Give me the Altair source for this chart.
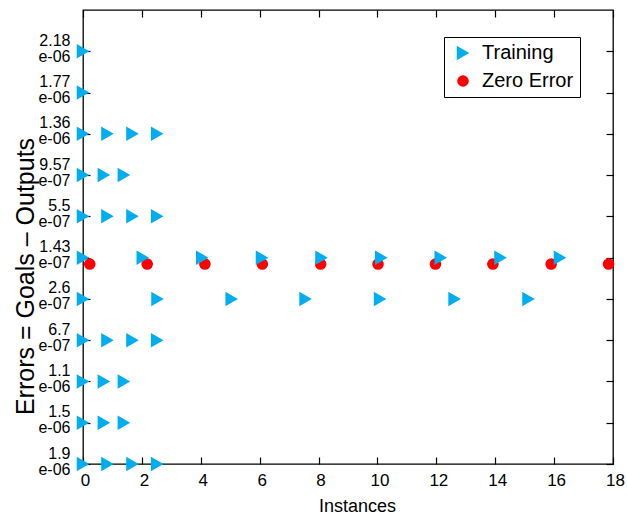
import json
import altair as alt
import pandas as pd

# Error bins (rows from bottom to top), two-line tick labels as shown
bin_labels = [
    ["1.9", "e-06"], ["1.5", "e-06"], ["1.1", "e-06"], ["6.7", "e-07"],
    ["2.6", "e-07"], ["1.43", "e-07"], ["5.5", "e-07"], ["9.57", "e-07"],
    ["1.36", "e-06"], ["1.77", "e-06"], ["2.18", "e-06"],
]

# Training markers: instance positions per bin row (row index = position in bin_labels)
training_row0 = [0, 0.83, 1.68, 2.52]
training_row1 = [0, 0.71, 1.39]
training_row2 = [0, 0.71, 1.39]
training_row3 = [0, 0.83, 1.68, 2.52]
training_row4 = [0, 2.53, 5.05, 7.56, 10.09, 12.62, 15.13]
training_row5 = [0, 2.03, 4.05, 6.08, 8.1, 10.13, 12.15, 14.18, 16.2]
training_row6 = [0, 0.83, 1.68, 2.52]
training_row7 = [0, 0.71, 1.39]
training_row8 = [0, 0.83, 1.68, 2.52]
training_row9 = [0]
training_row10 = [0]
training_rows = [training_row0, training_row1, training_row2, training_row3,
                 training_row4, training_row5, training_row6, training_row7,
                 training_row8, training_row9, training_row10]

# Zero error markers
zero_error_x = [0.23, 2.18, 4.14, 6.09, 8.07, 10.02, 11.97, 13.92, 15.9, 17.85]
zero_error_y = [4.845] * len(zero_error_x)

x_ticks = list(range(0, 19, 2))
y_ticks = list(range(0, 11))

series_names = ["Training", "Zero Error"]
cyan = "#00AEEF"
red = "#FF0000"

records = []
for xv, yv in zip(zero_error_x, zero_error_y):
    records.append({"x": xv, "y": yv, "series": "Zero Error"})
for r, xs in enumerate(training_rows):
    for xv in xs:
        records.append({"x": xv, "y": r, "series": "Training"})
df = pd.DataFrame(records)

FONT = "Liberation Sans"
xscale = alt.Scale(domain=[0, 18], nice=False, zero=False)
yscale = alt.Scale(domain=[0, 11], nice=False, zero=False)

main_x = alt.Axis(orient="bottom", values=x_ticks, ticks=False, domain=False, grid=False,
                  labelFontSize=17, labelPadding=8, labelColor="black", labelFont=FONT,
                  labelOffset=2,
                  title="Instances", titleFontSize=18, titleFontWeight="normal",
                  titleColor="black", titleFont=FONT, titleX=274, titleY=47,
                  titleBaseline="alphabetic", titleAlign="center", labelFlush=False)
main_y = alt.Axis(orient="left", values=y_ticks, ticks=False, domain=False, grid=False,
                  labelExpr=json.dumps(bin_labels) + "[datum.value]",
                  labelFontSize=16, labelLineHeight=16, labelPadding=13, labelAlign="right",
                  labelBaseline="middle", labelOffset=-11, labelColor="black", labelFont=FONT,
                  title="Errors = Goals \u2013 Outputs", titleFontSize=25,
                  titleFontWeight="normal", titleColor="black", titleFont=FONT,
                  titleX=-58, titleY=266, titleAngle=270, titleAlign="center",
                  titleBaseline="middle", labelFlush=False)

points = alt.Chart(df).mark_point(filled=True, opacity=1, strokeWidth=0).encode(
    x=alt.X("x:Q", scale=xscale, axis=main_x),
    y=alt.Y("y:Q", scale=yscale, axis=main_y),
    color=alt.Color("series:N", scale=alt.Scale(domain=series_names, range=[cyan, red]),
                    legend=alt.Legend(title=None)),
    shape=alt.Shape("series:N", scale=alt.Scale(domain=series_names,
                                                range=["triangle-right", "circle"]),
                    legend=alt.Legend(title=None)),
    size=alt.Size("series:N", scale=alt.Scale(domain=series_names, range=[210, 135]),
                  legend=alt.Legend(title=None)),
)

tick_x_bottom = alt.Axis(orient="bottom", values=x_ticks, offset=-7, tickSize=7,
                         labels=False, domain=False, grid=False, title=None,
                         tickColor="black", tickWidth=1.2)
tick_y_left = alt.Axis(orient="left", values=y_ticks, offset=-7, tickSize=7,
                       labels=False, domain=False, grid=False, title=None,
                       tickColor="black", tickWidth=1.2)
tick_x_top = alt.Axis(orient="top", values=x_ticks, offset=-7, tickSize=7,
                      labels=False, domain=False, grid=False, title=None,
                      tickColor="black", tickWidth=1.2)
tick_y_right = alt.Axis(orient="right", values=y_ticks, offset=-7, tickSize=7,
                        labels=False, domain=False, grid=False, title=None,
                        tickColor="black", tickWidth=1.2)

ticks1 = alt.Chart(df).mark_point(opacity=0).encode(
    x=alt.X("x:Q", scale=xscale, axis=tick_x_bottom),
    y=alt.Y("y:Q", scale=yscale, axis=tick_y_left),
)
ticks2 = alt.Chart(df).mark_point(opacity=0).encode(
    x=alt.X("x:Q", scale=xscale, axis=tick_x_top),
    y=alt.Y("y:Q", scale=yscale, axis=tick_y_right),
)

chart = alt.layer(points, ticks1, ticks2).resolve_axis(
    x="independent", y="independent"
).properties(
    width=530, height=454,
    autosize=alt.AutoSizeParams(type="none"),
    padding={"left": 83, "top": 10, "right": 14, "bottom": 51},
    background="white",
).configure_view(
    stroke="black", strokeWidth=1.3
).configure_legend(
    orient="none", legendX=361, legendY=27, strokeColor="black", fillColor="white",
    padding=6, labelFontSize=20, labelFont=FONT, labelColor="black", labelOffset=9,
    symbolOffset=3, rowPadding=8, symbolStrokeWidth=0, symbolOpacity=1
)

chart.save("out.html", embed_options={"renderer": "svg", "actions": False})
